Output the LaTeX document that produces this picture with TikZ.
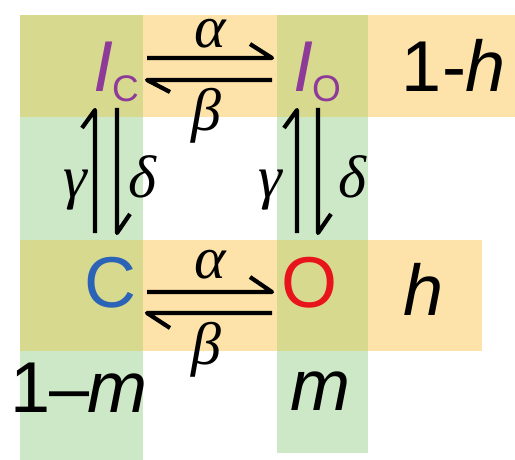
\documentclass[tikz,border=0pt]{standalone}
\usepackage{fontspec}
\setmainfont{Liberation Sans}
\newfontfamily\grk{Liberation Serif}
\definecolor{orw}{HTML}{FDE3AA}
\definecolor{grc}{HTML}{CDE8C6}
\definecolor{olv}{HTML}{D7D98F}
\definecolor{ipurple}{HTML}{8E3A98}
\definecolor{cblue}{HTML}{2B63B7}
\definecolor{ored}{HTML}{E8141B}
\begin{document}
\begin{tikzpicture}[x=1pt,y=-1pt,
  lbl/.style={inner sep=0pt, anchor=base, font=\fontsize{72}{72}\selectfont},
  grl/.style={inner sep=0pt, anchor=base, font=\fontsize{60}{60}\selectfont\grk\itshape},
  harp/.style={line width=4.2pt, line join=round, line cap=butt, draw=black}]
\useasboundingbox (0,0) rectangle (515,460);
% background bands
\fill[orw] (20,15) rectangle (515,117);
\fill[orw] (20,240) rectangle (482,351);
\fill[grc] (20,117) rectangle (143,460);
\fill[grc] (277,117) rectangle (368,453);
\fill[olv] (20,15) rectangle (143,117);
\fill[olv] (277,15) rectangle (368,117);
\fill[olv] (20,240) rectangle (143,351);
\fill[olv] (277,240) rectangle (368,351);
% states
\node[lbl, text=ipurple] (IC) at (116,92) {\textit{I}\kern-1pt\raisebox{-10pt}{\fontsize{37}{37}\selectfont C}};
\node[lbl, text=ipurple] (IO) at (317,92) {\textit{I}\kern-1pt\raisebox{-10pt}{\fontsize{37}{37}\selectfont O}};
\node[lbl, text=cblue] (C) at (110,307) {C};
\node[lbl, text=ored] (O) at (310,307) {O};
\node[lbl] (oneh) at (454,92) {1-\textit{h}};
\node[lbl] (h) at (424,315) {\textit{h}};
\node[lbl] (onem) at (79,412) {1\kern-2pt\textendash\kern-2pt\textit{m}};
\node[lbl] (m) at (320,410) {\textit{m}};
% rate labels
\node[grl] (a1) at (210,48) {α};
\node[grl] (b1) at (206,131) {β};
\node[grl] (a2) at (210,278) {α};
\node[grl] (b2) at (206,364) {β};
\node[grl] (g1) at (75,197) {γ};
\node[grl] (d1) at (142,197) {δ};
\node[grl] (g2) at (270,197) {γ};
\node[grl] (d2) at (352,197) {δ};
% connector end points
\coordinate (t1s) at (147,58);  \coordinate (t1e) at (272,58);
\coordinate (t2s) at (272,80);  \coordinate (t2e) at (147,80);
\coordinate (u1s) at (147,292); \coordinate (u1e) at (272,292);
\coordinate (u2s) at (272,313); \coordinate (u2e) at (147,313);
\coordinate (l1s) at (95,233);  \coordinate (l1e) at (95,110);
\coordinate (l2s) at (117,108); \coordinate (l2e) at (117,233);
\coordinate (r1s) at (297,233); \coordinate (r1e) at (297,110);
\coordinate (r2s) at (318,108); \coordinate (r2e) at (318,233);
% harpoons
\draw[harp] (t1s) -- (t1e) -- ++(-22,-14);
\draw[harp] (t2s) -- (t2e) -- ++(23,12);
\draw[harp] (u1s) -- (u1e) -- ++(-22,-15);
\draw[harp] (u2s) -- (u2e) -- ++(23,15);
\draw[harp] (l1s) -- (l1e) -- ++(-13,18);
\draw[harp] (l2s) -- (l2e) -- ++(13,-19);
\draw[harp] (r1s) -- (r1e) -- ++(-13,18);
\draw[harp] (r2s) -- (r2e) -- ++(13,-19);
\end{tikzpicture}
\end{document}
